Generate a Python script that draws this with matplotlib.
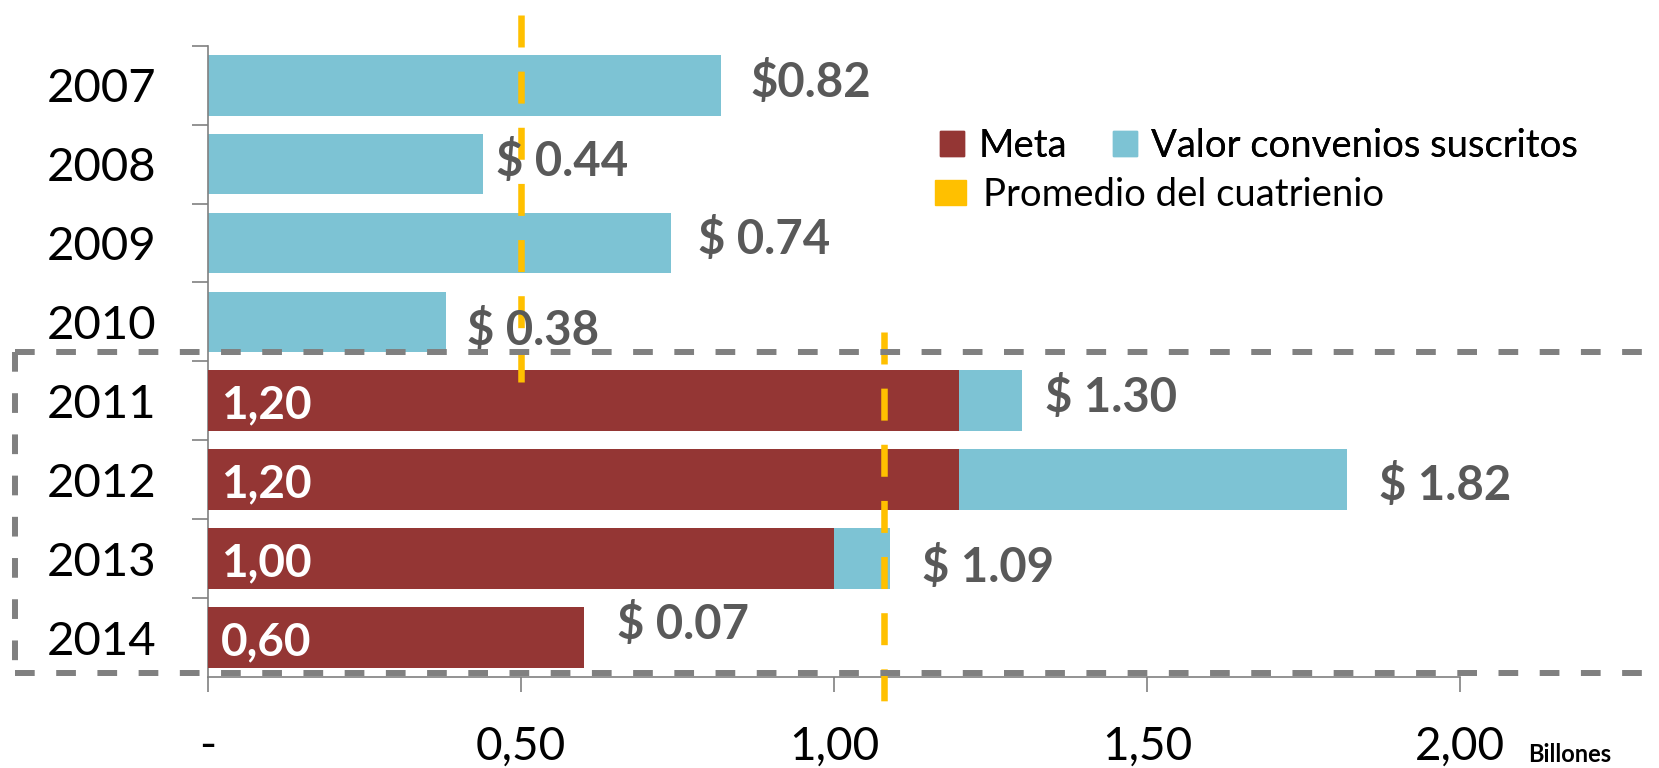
import matplotlib
matplotlib.use("Agg")
import matplotlib.pyplot as plt
from matplotlib.patches import Patch
import numpy as np

# ---- data (billones de pesos) ----
years = ["2007", "2008", "2009", "2010", "2011", "2012", "2013", "2014"]
valor = [0.82, 0.44, 0.74, 0.38, 1.30, 1.82, 1.09, 0.07]
valor_labels = ["$0.82", "$ 0.44", "$ 0.74", "$ 0.38",
                "$ 1.30", "$ 1.82", "$ 1.09", "$ 0.07"]
meta_years = ["2011", "2012", "2013", "2014"]
meta = [1.20, 1.20, 1.00, 0.60]
meta_labels = ["1,20", "1,20", "1,00", "0,60"]
promedio = [0.50, 1.08]          # cuatrienio 2007-2010 y 2011-2014
xticks = [0, 0.5, 1.0, 1.5, 2.0]
xtick_labels = ["-", "0,50", "1,00", "1,50", "2,00"]

# label nudges (x in data units, y in category units), as placed in the original
lab_dx = [0.046, 0.020, 0.042, 0.034, 0.037, 0.051, 0.051, 0.054]
lab_dy = [-0.03, -0.03, -0.05, 0.11, -0.04, 0.07, 0.11, -0.16]

RED = "#943634"
CYAN = "#7DC3D4"
YELLOW = "#FFC000"
GRAY = "#808080"
LABEL = "#595959"

plt.rcParams["font.family"] = ["Lato", "DejaVu Sans"]

fig = plt.figure(figsize=(16.59, 7.68), dpi=100)
ax = fig.add_axes([208 / 1659, 1 - 677 / 768, 1252 / 1659, 631.3 / 768])

ypos = np.arange(len(years))
meta_pos = [years.index(y) for y in meta_years]

ax.barh(ypos, valor, height=0.77, color=CYAN, zorder=2)
ax.barh(meta_pos, meta, height=0.77, color=RED, zorder=3)

# value labels
for i, (v, txt) in enumerate(zip(valor, valor_labels)):
    end = v
    if years[i] in meta_years:
        end = max(v, meta[meta_years.index(years[i])])
    ax.text(end + lab_dx[i], i + lab_dy[i], txt, ha="left", va="center",
            fontsize=34, fontweight="bold", color=LABEL, zorder=5)

for p, m, txt in zip(meta_pos, meta, meta_labels):
    ax.text(0.020, p + 0.06, txt, ha="left", va="center", fontsize=33,
            fontweight="bold", color="white", zorder=5)

# averages of each four-year period
ax.plot([promedio[0]] * 2, [-0.89, 3.76], color=YELLOW, lw=4.7,
        dashes=(4.9, 3.7), clip_on=False, zorder=4, solid_capstyle="butt")
ax.plot([promedio[1]] * 2, [3.13, 8.05], color=YELLOW, lw=4.7,
        dashes=(4.9, 3.7), clip_on=False, zorder=4, solid_capstyle="butt")

# dashed box around the 2011-2014 period
tr = ax.get_yaxis_transform()
box_kw = dict(color=GRAY, lw=4.3, dashes=(3.3, 3.6), clip_on=False,
              transform=tr, zorder=6, solid_capstyle="butt")
ax.plot([-0.154, 1.16], [3.38, 3.38], **box_kw)
ax.plot([-0.154, 1.16], [7.45, 7.45], **box_kw)
ax.plot([-0.154, -0.154], [3.38, 7.45], **box_kw)

ax.set_xlim(0, 2.0)
ax.set_ylim(7.5, -0.5)

ax.set_xticks(xticks)
ax.set_xticklabels(xtick_labels)
ax.set_yticks(ypos)
ax.set_yticklabels(years)
ax.set_yticks(np.arange(-0.5, 7.5, 1), minor=True)
ax.tick_params(axis="y", which="major", length=0, pad=37, labelsize=34)
ax.tick_params(axis="y", which="minor", length=11.5, width=1.2, color=GRAY)
ax.tick_params(axis="x", length=10.8, width=1.2, color=GRAY, pad=24,
               labelsize=33)

for s in ["top", "right"]:
    ax.spines[s].set_visible(False)
for s in ["left", "bottom"]:
    ax.spines[s].set_color(GRAY)
    ax.spines[s].set_linewidth(1.2)

fig.text(1528 / 1659, 0.008, "Billones", fontsize=17, fontweight="bold",
         ha="left", va="baseline")

leg_kw = dict(loc="upper left", frameon=False, fontsize=27.5,
              borderpad=0, borderaxespad=0)
leg1 = fig.legend(handles=[Patch(color=RED, label="Meta"),
                           Patch(color=CYAN, label="Valor convenios suscritos")],
                  ncol=2, bbox_to_anchor=(940 / 1659, 1 - 128 / 768),
                  handlelength=0.64, handleheight=0.62, handletextpad=0.36,
                  columnspacing=1.2, **leg_kw)
fig.add_artist(leg1)
fig.legend(handles=[Patch(color=YELLOW, label="Promedio del cuatrienio")],
           bbox_to_anchor=(935 / 1659, 1 - 177 / 768),
           handlelength=0.8, handleheight=0.6, handletextpad=0.45,
           **leg_kw)

fig.savefig("out.png", dpi=100)
